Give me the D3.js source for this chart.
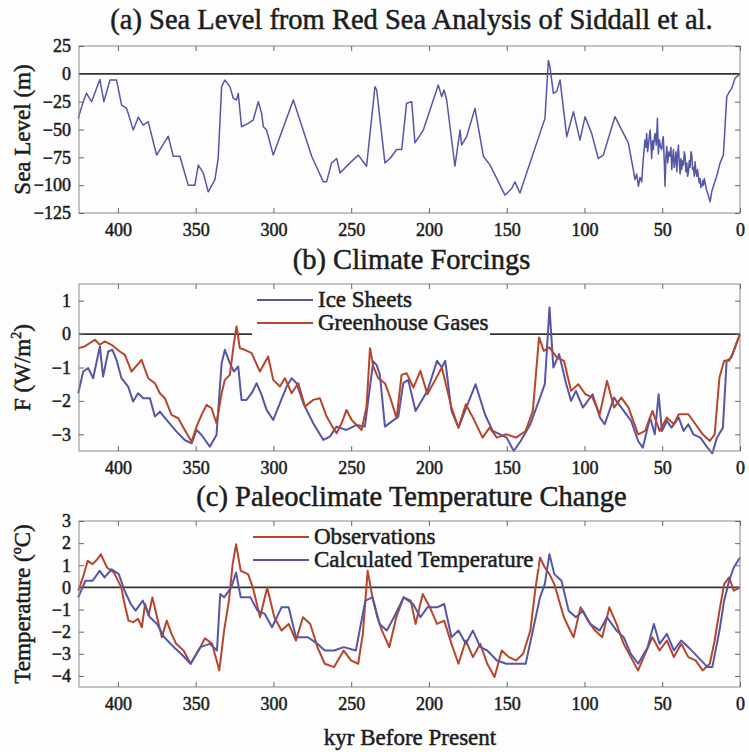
<!DOCTYPE html>
<html>
<head>
<meta charset="utf-8" />
<script src="https://cdn.jsdelivr.net/npm/d3@7"></script>
<style>
html, body { margin: 0; padding: 0; background: #fdfdfd; }
svg text { font-family: "Liberation Serif", "Times New Roman", serif; fill: #1c1c1c; stroke: #1c1c1c; stroke-width: 0.5px; }
</style>
</head>
<body>
<svg id="chart" width="749" height="752"></svg>
<script>
// x axis (kyr before present), shared by all three panels
var kyrTicks = [400, 350, 300, 250, 200, 150, 100, 50, 0];

// (a) sea level, [kyr, metres]
var seaLevel = [
  [425.5, -40], [422.3, -25], [420.2, -17.5], [416.9, -25], [414.1, -14.5], [411.6, -5],
  [409, -25], [406.9, -14.5], [405.1, -5.5], [400.9, -5.5], [397.6, -28], [394.4, -31],
  [390.1, -50.5], [386.9, -39], [383.7, -46], [380.5, -43], [375.1, -73], [367.6, -56],
  [364.4, -74], [360.1, -74], [354.8, -100], [350.5, -100], [348.3, -82], [345.1, -89],
  [341.9, -106], [337.6, -95], [335.5, -76], [333.3, -11.5], [331.2, -5.5], [328, -11.5],
  [325.8, -22], [323.7, -23.5], [322.6, -17.5], [320.5, -47.5], [316.2, -44.5], [313, -41.5],
  [309.7, -25], [307.6, -35.5], [306.5, -47.5], [304.4, -50.5], [300.1, -73], [287.2, -23.5],
  [275.4, -74], [267.9, -97], [265.8, -97], [262.6, -80], [259.3, -76], [257.2, -89],
  [250.8, -80], [245.4, -73], [240.1, -83], [234.7, -11.5], [233.6, -14.5], [228.3, -80],
  [225, -76], [220.8, -68], [217.5, -68], [214.4, -26.5], [211.1, -25], [209, -62],
  [203.6, -50.5], [194, -10], [191.8, -20.5], [190.3, -14.5], [188.6, -23.5], [183.3, -83],
  [180, -50.5], [179, -64], [175.8, -56.5], [170.4, -31], [165, -74], [160.7, -82],
  [151.1, -109], [146.8, -103], [144.7, -97], [141.5, -107], [125.4, -40], [123.2, 12],
  [122.2, 6.5], [120, -17.5], [117.9, -16], [115.7, -5.5], [111.4, -56.5], [107.1, -34],
  [102.9, -59.5], [99.6, -38.5], [95.4, -53.5], [91.1, -76], [87.9, -73], [80.4, -38.5],
  [71.8, -62], [68.6, -86], [67.5, -95], [66.4, -90], [65.3, -101], [64.3, -93], [63.2, -97],
  [62.4, -80], [61.1, -59.5], [60.5, -66], [60, -53.5], [59.4, -70], [58.9, -64], [58.3, -56],
  [57.8, -50.5], [57.3, -62], [56.8, -76], [56.2, -60], [55.7, -68], [55.1, -58], [54.6, -53.5],
  [53.8, -64], [53.1, -40], [52.5, -72], [51.8, -59.5], [51, -66], [50.3, -68], [49.8, -60],
  [49.3, -56.5], [48.7, -78], [48.2, -101], [47.6, -74], [47.1, -65], [46.5, -80], [45.8, -70],
  [45, -74], [44.4, -66], [43.9, -86], [43.3, -75], [42.8, -68], [42.3, -84], [41.8, -80],
  [41.2, -70], [40.6, -88], [40.1, -72], [39.6, -64], [39, -80], [38.5, -90], [38, -76],
  [37.5, -86], [36.9, -78], [36.4, -82], [35.8, -70], [35.3, -74], [34.8, -88], [34.2, -80],
  [33.7, -92], [33.2, -89], [32.6, -78], [32.1, -84], [31.5, -70], [31, -73], [30.5, -86],
  [30, -84], [29.4, -92], [28.9, -79], [28.3, -88], [27.8, -92], [27.3, -86], [26.8, -92],
  [26.2, -98], [25.7, -94], [25.1, -102], [24.6, -101], [24, -96], [23.5, -100], [23, -94],
  [22.5, -97], [21.6, -104], [20.6, -108], [19.2, -115], [18.2, -106], [17.1, -101], [15, -92],
  [12.8, -80], [10.7, -73], [8.5, -20.5], [6.8, -16], [5.3, -13], [3.2, -4], [0, 0]
];

// (b) climate forcings, [kyr, W/m2]
var iceSheets = [
  [425.5, -1.77], [422.3, -1.12], [419.1, -1.02], [415.9, -1.32], [411.6, -0.37], [409.5, -1.27],
  [406.2, -0.52], [403.5, -0.47], [400.9, -0.77], [397.7, -1.32], [393.4, -1.57], [390.2, -2.02],
  [387, -1.77], [383.7, -1.92], [379.4, -1.92], [376.2, -2.47], [373, -2.32], [368.7, -2.57],
  [362.3, -2.92], [357, -3.17], [352.6, -3.27], [349.4, -2.87], [346.2, -3.02], [340.9, -3.37],
  [336.6, -3.02], [333.3, -0.87], [331.2, -0.47], [328, -0.87], [325.4, -1.12], [322.6, -0.97],
  [320.5, -1.97], [317.3, -1.97], [314, -1.77], [310.8, -1.47], [307.6, -1.82], [304.4, -2.27],
  [300.1, -2.57], [295.8, -2.07], [291.5, -1.57], [288.3, -1.32], [285.1, -1.47], [280.8, -2.07],
  [274.4, -2.67], [267.9, -3.17], [263.7, -3.07], [259.4, -2.77], [253, -2.87], [246.5, -2.72],
  [241.2, -2.77], [235.8, -0.82], [233.7, -0.92], [231.5, -1.22], [228.3, -2.77], [224, -2.62],
  [219.7, -2.47], [216.5, -1.47], [213.3, -1.37], [208.6, -2.3], [201, -1.7], [194.8, -0.8],
  [191.7, -1.0], [189.5, -0.8], [185.5, -2.3], [181, -2.8], [176, -2.2], [170, -1.5],
  [164, -2.4], [159, -2.9], [150, -3.1], [145.5, -3.5], [141, -3.2], [134.8, -2.7],
  [128.6, -1.9], [125.5, -1.5], [122.5, 0.8], [120, -1.0], [116.3, -0.6], [111.7, -1.5],
  [108.6, -2.0], [105.5, -1.7], [101, -2.2], [94.8, -1.8], [90, -2.5], [87, -2.7],
  [81, -1.9], [76.3, -2.2], [70, -2.6], [65.5, -3.2], [62.5, -3.4], [57.8, -2.5],
  [54.8, -3.0], [52.3, -1.8], [50.2, -2.9], [47, -2.6], [44, -2.8], [39.4, -2.5],
  [36.3, -2.9], [33.2, -2.7], [30, -3.0], [25.5, -3.1], [20.9, -3.4], [17.8, -3.57],
  [14.8, -3.1], [11, -2.8], [8.6, -0.8], [5.5, -0.7], [2.5, -0.3], [0, 0]
];
var greenhouse = [
  [425.5, -0.42], [421.3, -0.37], [414.8, -0.17], [411.6, -0.32], [408.4, -0.22], [404.1, -0.32],
  [398.7, -0.52], [395.5, -0.62], [391.2, -1.12], [384.8, -0.77], [380.5, -1.32], [376.2, -1.47],
  [373, -1.77], [369.8, -1.92], [365.5, -2.42], [361.2, -2.52], [357, -2.87], [352.6, -3.22],
  [349.4, -2.77], [346.2, -2.42], [343, -2.12], [339.8, -2.22], [336.6, -2.67], [333.3, -1.77],
  [331.2, -1.37], [328, -1.22], [325.4, -0.27], [323.7, 0.23], [321.6, -0.42], [318.4, -0.47],
  [314, -0.57], [308.7, -1.12], [303.4, -0.67], [300.1, -1.37], [295.8, -1.57], [292.6, -1.32],
  [288.3, -1.77], [284, -1.47], [279.7, -2.17], [274.4, -1.97], [270.1, -1.92], [265.8, -2.47],
  [261.5, -2.82], [259.4, -2.97], [256.2, -2.67], [253, -2.27], [249.7, -2.57], [246.5, -2.72],
  [243.3, -2.87], [240.1, -2.17], [237.9, -0.42], [235.8, -0.97], [232.6, -1.32], [228.3, -1.47],
  [225.1, -1.87], [220.8, -2.52], [217.6, -1.22], [214.4, -1.17], [210, -1.6], [205.5, -1.1],
  [201, -1.8], [196.3, -1.4], [191.7, -1.0], [185.5, -2.2], [181, -2.8], [176.3, -2.1],
  [171.7, -2.5], [165.5, -3.1], [161, -2.8], [156.3, -3.1], [150.2, -3.0], [144, -3.1],
  [137.8, -2.9], [133.2, -2.3], [129.2, -0.1], [126.2, -0.5], [122.5, -0.4], [117.8, -0.7],
  [113.2, -0.8], [108.6, -1.7], [104, -1.5], [99.4, -1.8], [94.8, -1.9], [90.2, -2.4],
  [85.5, -1.4], [81, -2.2], [76.3, -1.9], [71.7, -2.2], [65.5, -3.0], [61, -2.9],
  [56.3, -2.3], [51.7, -2.9], [47, -2.5], [42.5, -2.7], [39.4, -2.4], [33.2, -2.4],
  [28.6, -2.7], [24, -3.0], [19.4, -3.2], [16.3, -3.0], [13.2, -1.3], [10.2, -0.8],
  [7, -0.8], [4, -0.5], [0, 0]
];

// (c) temperature change, [kyr, deg C]
var observations = [
  [425.5, -0.15], [422.5, 0.45], [419.4, 1.2], [416.3, 1.05], [413.2, 1.27], [411, 1.5],
  [407, 0.9], [402.5, 0.67], [397.8, 0], [395.7, -0.75], [393.2, -1.5], [390.2, -1.57],
  [387, -1.42], [384.6, -1.8], [382.5, -0.75], [380.3, -1.27], [377.8, -0.45], [374.8, -1.35],
  [371.7, -2.25], [368.6, -1.5], [365.5, -2.1], [362.5, -2.55], [357.8, -2.85], [353.2, -3.45],
  [347, -2.7], [344, -2.3], [339.4, -2.55], [334.8, -3.75], [331.7, -1.95], [328.6, -0.6],
  [326.2, 1.05], [324, 1.95], [321, 0.75], [316.3, 0.6], [313.2, 0], [308.6, -1.35],
  [304, 0], [299.4, -1.35], [294.8, -1.95], [290.2, -1.65], [285.5, -2.4], [281, -1.35],
  [276.3, -1.65], [271.7, -2.7], [267, -3.45], [261, -3.6], [254.8, -2.85], [250.2, -3.3],
  [245.5, -3.45], [242.5, -2.1], [239.4, 0.75], [236.3, -0.45], [233.2, -1.35], [230.2, -1.95],
  [225.5, -2.7], [221, -1.35], [216.3, -0.45], [211.7, -0.6], [208.6, -1.65], [204, -0.3],
  [199.4, -0.9], [194.8, -1.65], [190.2, -1.5], [185.5, -2.55], [181, -3.45], [176.3, -2.4],
  [171.7, -3.15], [167, -2.55], [162.5, -3.45], [157.8, -4.05], [153.2, -2.85], [148.6, -3.15],
  [144, -3.3], [139.4, -3.0], [134.8, -1.95], [131.7, -0.15], [128.6, 1.35], [125.5, 0.9],
  [122.5, 0.6], [119.4, 0.15], [116.3, -0.6], [113.2, -1.35], [110.2, -1.8], [107, -2.25],
  [102.5, -0.9], [97.8, -1.5], [93.2, -1.95], [88.6, -2.25], [84, -0.9], [79.4, -1.65],
  [74.8, -2.55], [70.2, -3.15], [65.5, -3.75], [61, -3.0], [56.3, -2.25], [51.7, -2.85],
  [47, -2.4], [42.5, -3.15], [37.8, -2.55], [33.2, -3.15], [28.6, -3.3], [24, -3.75],
  [19.4, -3.45], [16.3, -2.4], [13.2, -1.05], [10.2, 0.15], [7, 0.45], [4, -0.15], [0, 0]
];
var calculated = [
  [425.5, -0.45], [420.9, 0.3], [416.3, 0.3], [411.7, 0.75], [408.6, 0.45], [404, 0.82],
  [399.4, 0.6], [395.7, -0.15], [391.7, -0.75], [388.6, -1.05], [384, -0.6], [379.4, -1.35],
  [374.8, -1.65], [370.2, -2.25], [364, -2.7], [359.4, -3.0], [353.2, -3.45], [347, -2.7],
  [340.9, -2.55], [336.3, -2.85], [334.2, -0.3], [331.7, -0.45], [327.1, 0], [324, 0.67],
  [321, -0.45], [314.8, -0.45], [310.2, -1.05], [305.5, -1.2], [300.9, -1.8], [294.8, -0.9],
  [290.2, -0.9], [285.5, -2.25], [277.8, -2.25], [271.7, -2.55], [267, -2.85], [261, -2.85],
  [254.8, -2.7], [247, -2.85], [240.9, -0.6], [236.3, -0.45], [231.7, -1.65], [227.1, -1.95],
  [222.5, -1.35], [216.3, -0.45], [210.2, -0.75], [205.5, -1.35], [201, -0.9], [194.8, -0.9],
  [190.2, -0.75], [185.5, -2.25], [181, -1.95], [176.3, -2.55], [171.7, -1.95], [167, -2.7],
  [162.5, -2.85], [156.3, -3.3], [150.2, -3.45], [144, -3.45], [137.8, -3.45], [133.2, -1.95],
  [128.6, -0.45], [125.5, 0.15], [122.5, 1.5], [119.4, 0.6], [114.8, 0.3], [110.2, -1.05],
  [105.5, -1.35], [101, -1.05], [96.3, -1.65], [90.2, -1.95], [85.5, -1.35], [79.4, -1.95],
  [74.8, -2.25], [70.2, -3.0], [65.5, -3.45], [59.4, -2.7], [55.4, -1.65], [51.7, -2.55],
  [47, -2.1], [42.5, -2.85], [37.8, -2.4], [33.2, -2.7], [27, -3.15], [20.9, -3.6],
  [17.8, -3.6], [13.2, -1.95], [10.2, -0.6], [7, 0.3], [4, 0.9], [0, 1.35]
];

var BLUE = '#5556a6';
var RED = '#b5462b';

var svg = d3.select('#chart');
var x = d3.scaleLinear().domain([425, 0]).range([79, 740]);

var panels = [
  {
    title: '(a)  Sea Level from Red Sea Analysis of Siddall et al.',
    titleY: 29, top: 46, bottom: 213,
    domain: [-125, 25], ticks: [25, 0, -25, -50, -75, -100, -125],
    series: [{ data: seaLevel, color: BLUE, width: 1.5 }],
    legend: null
  },
  {
    title: '(b)  Climate Forcings',
    titleY: 269, top: 284, bottom: 451,
    domain: [-3.5, 1.5], ticks: [1, 0, -1, -2, -3],
    series: [{ data: iceSheets, color: BLUE, name: 'Ice Sheets' },
             { data: greenhouse, color: RED, name: 'Greenhouse Gases' }],
    legend: { x: 252, y: 286, w: 238, h: 50 }
  },
  {
    title: '(c)  Paleoclimate Temperature Change',
    titleY: 506, top: 521, bottom: 687,
    domain: [-4.5, 3], ticks: [3, 2, 1, 0, -1, -2, -3, -4],
    series: [{ data: observations, color: RED, name: 'Observations' },
             { data: calculated, color: BLUE, name: 'Calculated Temperature' }],
    legend: { x: 248, y: 523, w: 290, h: 46 }
  }
];

panels.forEach(function(p, i) {
  var y = d3.scaleLinear().domain(p.domain).range([p.bottom, p.top]);
  var g = svg.append('g');

  g.append('text')
    .attr('x', (x.range()[0] + x.range()[1]) / 2 + 2)
    .attr('y', p.titleY)
    .attr('text-anchor', 'middle')
    .style('font-size', '28.5px')
    .text(p.title);

  // zero line
  g.append('line')
    .attr('x1', x(425)).attr('x2', x(0))
    .attr('y1', y(0)).attr('y2', y(0))
    .attr('stroke', '#333').attr('stroke-width', 1.6);

  var line = d3.line()
    .x(function(d) { return x(d[0]); })
    .y(function(d) { return y(d[1]); });

  p.series.forEach(function(s) {
    g.append('path')
      .datum(s.data)
      .attr('d', line)
      .attr('fill', 'none')
      .attr('stroke', s.color)
      .attr('stroke-width', s.width || 2)
      .attr('stroke-linejoin', 'round');
  });

  // legend with white box
  if (p.legend) {
    var L = p.legend;
    g.append('rect')
      .attr('x', L.x).attr('y', L.y).attr('width', L.w).attr('height', L.h)
      .attr('fill', '#fdfdfd');
    p.series.forEach(function(s, k) {
      var ly = L.y + 14 + k * 23;
      g.append('line')
        .attr('x1', L.x + 5).attr('x2', L.x + 61)
        .attr('y1', ly).attr('y2', ly)
        .attr('stroke', s.color).attr('stroke-width', 2.2);
      g.append('text')
        .attr('x', L.x + 66).attr('y', ly + 7)
        .style('font-size', '23px')
        .text(s.name);
    });
  }

  // box and inward ticks on all sides
  g.append('rect')
    .attr('x', x(425)).attr('y', p.top)
    .attr('width', x(0) - x(425)).attr('height', p.bottom - p.top)
    .attr('fill', 'none').attr('stroke', '#8a8a8a').attr('stroke-width', 1);

  g.append('g')
    .attr('transform', 'translate(0,' + p.bottom + ')')
    .call(d3.axisBottom(x).tickValues(kyrTicks).tickSize(-5).tickPadding(10).tickFormat(d3.format('d')))
    .call(function(a) {
      a.select('.domain').remove();
      a.selectAll('line').attr('stroke', '#666');
      a.selectAll('text').style('font-size', '18px').attr('fill', '#1c1c1c')
        .attr('font-family', '"Liberation Serif", serif');
    });
  g.append('g')
    .attr('transform', 'translate(0,' + p.top + ')')
    .call(d3.axisTop(x).tickValues(kyrTicks).tickSize(-5).tickFormat(''))
    .call(function(a) { a.select('.domain').remove(); a.selectAll('line').attr('stroke', '#666'); });

  g.append('g')
    .attr('transform', 'translate(' + x(425) + ',0)')
    .call(d3.axisLeft(y).tickValues(p.ticks).tickSize(-5).tickPadding(8).tickFormat(d3.format('d')))
    .call(function(a) {
      a.select('.domain').remove();
      a.selectAll('line').attr('stroke', '#666');
      a.selectAll('text').style('font-size', '18px').attr('fill', '#1c1c1c')
        .attr('font-family', '"Liberation Serif", serif');
    });
  g.append('g')
    .attr('transform', 'translate(' + x(0) + ',0)')
    .call(d3.axisRight(y).tickValues(p.ticks).tickSize(-5).tickFormat(''))
    .call(function(a) { a.select('.domain').remove(); a.selectAll('line').attr('stroke', '#666'); });
});

// y axis labels
var ylab = [
  { cy: 129.5, parts: [['Sea Level (m)']] },
  { cy: 367.5, parts: [['F (W/m'], ['2', 'sup'], [')']] },
  { cy: 604, parts: [['Temperature ('], ['o', 'sup'], ['C)']] }
];
ylab.forEach(function(l) {
  var t = svg.append('text')
    .attr('transform', 'translate(30,' + l.cy + ') rotate(-90)')
    .attr('text-anchor', 'middle')
    .style('font-size', '23px');
  l.parts.forEach(function(part) {
    var ts = t.append('tspan').text(part[0]);
    if (part[1] === 'sup') {
      ts.attr('dy', -9).style('font-size', '14px');
    } else if (t.selectAll('tspan').size() > 1) {
      ts.attr('dy', 9);
    }
  });
});

svg.append('text')
  .attr('x', 410).attr('y', 745)
  .attr('text-anchor', 'middle')
  .style('font-size', '23px')
  .text('kyr Before Present');
</script>
</body>
</html>
